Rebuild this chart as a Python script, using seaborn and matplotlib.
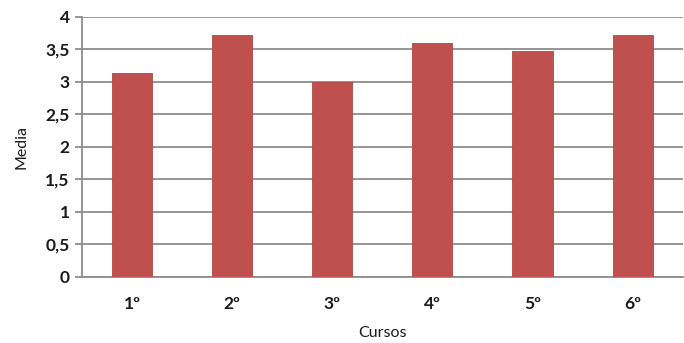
import pandas as pd
import numpy as np
import matplotlib.pyplot as plt
import seaborn as sns

# Datos
cursos = ['1º', '2º', '3º', '4º', '5º', '6º']
medias = [3.13, 3.72, 2.99, 3.60, 3.48, 3.72]

df = pd.DataFrame({'Cursos': cursos, 'Media': medias})

sns.set_style('white')
plt.rcParams['font.family'] = ['Lato', 'DejaVu Sans']

fig = plt.figure(figsize=(6.84, 3.43), dpi=100)
ax = fig.add_axes([0.12, 0.193, 0.878, 0.758])

sns.barplot(data=df, x='Cursos', y='Media', color='#C0504D', width=0.4,
            saturation=1, ax=ax, zorder=3, edgecolor='#B04844', linewidth=0.6)

ax.set_ylim(0, 4)
ax.set_yticks(np.arange(0, 4.01, 0.5))
ax.set_yticklabels(['0', '0,5', '1', '1,5', '2', '2,5', '3', '3,5', '4'])
ax.yaxis.grid(True, color='#8c8c8c', linewidth=1.3, zorder=0)
ax.set_axisbelow(True)

for s in ['top', 'right']:
    ax.spines[s].set_visible(False)
for s in ['left', 'bottom']:
    ax.spines[s].set_color('#8c8c8c')
    ax.spines[s].set_linewidth(1.3)

ax.tick_params(axis='y', which='major', direction='out', length=5, width=1.3,
               color='#8c8c8c', left=True, pad=4)
ax.tick_params(axis='x', length=0, pad=14)
for lbl in ax.get_xticklabels() + ax.get_yticklabels():
    lbl.set_fontweight('bold')
    lbl.set_fontsize(12.5)
    lbl.set_color('#1a1a1a')

ax.set_xlabel('Cursos', fontsize=11.5, color='#1a1a1a', labelpad=10)
ax.set_ylabel('Media', fontsize=11.5, color='#1a1a1a', labelpad=12)

plt.savefig('out.png', dpi=100)
